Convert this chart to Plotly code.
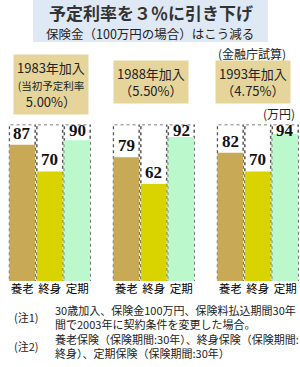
import plotly.graph_objects as go
from plotly.subplots import make_subplots

# ---- data ----
kinds = ["養老", "終身", "定期"]
groups = ["1983", "1988", "1993"]
values_1983 = [87, 70, 90]
values_1988 = [79, 62, 92]
values_1993 = [82, 70, 94]
series = [values_1983, values_1988, values_1993]
group_labels = [
    "1983年加入<br><span style='font-size:10.5px'>(当初予定利率</span><br>5.00%）",
    "1988年加入<br>（5.50%）",
    "1993年加入<br>（4.75%）",
]
bar_colors = ["#c8a955", "#d9d300", "#bbf8cc"]
title1 = "予定利率を３％に引き下げ"
title2 = "保険金（100万円の場合）はこう減る"
source = "(金融庁試算)"
unit = "(万円)"
note_tags = ["(注1)", "", "(注2)", ""]
note_lines = [
    "30歳加入、保険金100万円、保険料払込期間30年",
    "間で2003年に契約条件を変更した場合。",
    "養老保険（保険期間:30年）、終身保険（保険期間:",
    "終身）、定期保険（保険期間:30年）",
]
full_scale = 100

W, H = 300, 367
def py(pix):
    return 1 - pix / H
def px(pix):
    return pix / W

CJK = "Noto Sans CJK JP"
fig = make_subplots(rows=1, cols=3)

domains = [(8.5, 91), (112.5, 195), (216.5, 299)]
bar_half = 0.47
for gi, vals in enumerate(series):
    xa = "x" if gi == 0 else f"x{gi+1}"
    ya = "y" if gi == 0 else f"y{gi+1}"
    fig.add_trace(go.Bar(x=kinds, y=vals, marker=dict(color=bar_colors, line=dict(width=0)),
                         showlegend=False, hoverinfo="skip"), row=1, col=gi + 1)
    for ki, v in enumerate(vals):
        fig.add_shape(type="rect", xref=xa, yref=ya, x0=ki - bar_half, x1=ki + bar_half,
                      y0=0, y1=full_scale, layer="below",
                      line=dict(color="#555555", width=1.5, dash="dot"), fillcolor="white")
        fig.add_annotation(xref=xa, yref=ya, x=kinds[ki], y=min(v, 89),
                           xanchor="center", yanchor="bottom",
                           text=f"<b>{v}</b>", showarrow=False,
                           font=dict(family="Liberation Serif", size=17, color="#111"))
    d0, d1 = domains[gi]
    fig.update_xaxes(domain=[px(d0), px(d1)], showgrid=False, zeroline=False, showline=False,
                     ticks="", tickangle=0, automargin=False, ticklabelstandoff=-1,
                     tickfont=dict(family=CJK, size=11.5, color="#000"),
                     row=1, col=gi + 1)
    fig.update_yaxes(domain=[py(281), py(124.5)], range=[0, full_scale], visible=False,
                     automargin=False, row=1, col=gi + 1)

fig.update_layout(bargap=0.06)

def note(x, y, text, size, anchor="center", **kw):
    fig.add_annotation(xref="paper", yref="paper", x=px(x), y=py(y), text=text,
                       xanchor=anchor, yanchor="middle", showarrow=False,
                       font=dict(family=CJK, size=size, color=kw.pop("color", "#222")), **kw)

# title box
fig.add_shape(type="rect", xref="paper", yref="paper", x0=px(33), x1=px(268), y0=py(42), y1=1,
              line=dict(width=0), fillcolor="#dee9f5", layer="below")
note(151, 12, f"<b>{title1}</b>", 17, color="#333", borderpad=0)
note(150, 33, title2, 12.5, borderpad=0)
note(252, 53, source, 12)
note(279, 113, unit, 12)

# group label boxes
label_pos = [(51, 85), (151, 82), (252.5, 82)]
for (cx, cy), lab in zip(label_pos, group_labels):
    note(cx, cy, lab, 13, bgcolor="#e6d59b", borderpad=3, align="center")

# notes
note(12, 331, "<br>".join(note_tags), 11, anchor="left", align="left")
note(53, 331, "<br>".join(note_lines), 11, anchor="left", align="left")

fig.update_layout(width=W, height=H, margin=dict(l=0, r=0, t=0, b=0, autoexpand=False),
                  paper_bgcolor="white", plot_bgcolor="white")
fig.write_html("out.html")
